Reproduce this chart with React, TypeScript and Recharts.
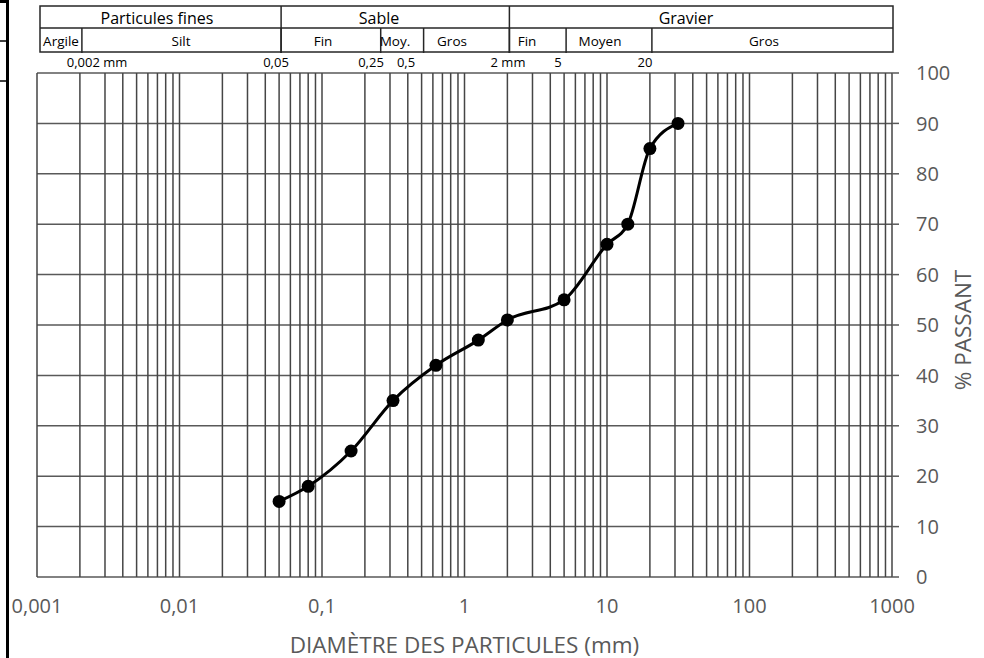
import { LineChart, Line, XAxis, YAxis, CartesianGrid, ReferenceLine } from 'recharts'

const FONT = '"Open Sans", Lato, sans-serif'
const GREY = '#595959'
const GRID = '#454545'

// courbe granulométrique (tamis AFNOR)
const SIEVE_MM = [0.05, 0.08, 0.16, 0.315, 0.63, 1.25, 2, 5, 10, 14, 20, 31.5]
const PASSING = [15, 18, 25, 35, 42, 47, 51, 55, 66, 70, 85, 90]

const X_TICKS = [0.001, 0.01, 0.1, 1, 10, 100, 1000]
const Y_TICKS = [0, 10, 20, 30, 40, 50, 60, 70, 80, 90, 100]

// classification en haut du graphique
const GROUPS = ['Particules fines', 'Sable', 'Gravier']
const GROUP_LIMITS = [0.05, 2]
const CLASSES = ['Argile', 'Silt', 'Fin', 'Moy.', 'Gros', 'Fin', 'Moyen', 'Gros']
const CLASS_LIMITS = [0.002, 0.05, 0.25, 0.5, 2, 5, 20]
const LIMIT_LABELS = ['0,002 mm', '0,05', '0,25', '0,5', '2 mm', '5', '20']

// mise en page (px)
const W = 984
const H = 658
const LEFT = 37
const RIGHT = 892
const TOP = 73
const BOTTOM = 577
const TABLE = { x0: 40, x1: 893, y0: 6, y1: 28, y2: 52 }
const GROUP_TEXT_X = [157, 379, 686]
const CLASS_TEXT_X = [61, 181, 323, 395, 452, 527, 600, 764]
const LIMIT_TEXT_X = [97, 276, 371, 406, 508, 558, 645]

const data = SIEVE_MM.map((d, i) => ({ d, p: PASSING[i] }))

// lignes du quadrillage log : 1..9 x 10^k
const minorX: number[] = []
for (let k = -3; k <= 2; k++) for (let m = 1; m <= 9; m++) minorX.push(+(m * Math.pow(10, k)).toPrecision(3))
minorX.push(1000)

const mmToX = (v: number) => LEFT + ((RIGHT - LEFT) / 6) * (Math.log10(v) + 3) + 2

function Overlay() {
  const line = { stroke: '#262626', strokeWidth: 1.5 }
  return (
    <svg width={W} height={H} style={{ position: 'absolute', left: 0, top: 0, pointerEvents: 'none' }}>
      {/* restes du cadre à gauche */}
      <line x1={7.5} y1={0} x2={7.5} y2={H} stroke="#000" strokeWidth={3} />
      <line x1={0} y1={1.5} x2={8} y2={1.5} stroke="#000" strokeWidth={3} />
      <line x1={0} y1={41} x2={8} y2={41} stroke="#000" strokeWidth={1.5} />
      <line x1={0} y1={81} x2={8} y2={81} stroke="#000" strokeWidth={1.5} />

      <rect x={TABLE.x0} y={TABLE.y0} width={TABLE.x1 - TABLE.x0} height={TABLE.y2 - TABLE.y0} fill="#fff" {...line} />
      <line x1={TABLE.x0} y1={TABLE.y1} x2={TABLE.x1} y2={TABLE.y1} {...line} />
      {GROUP_LIMITS.map((v, i) => (
        <line key={'g' + i} x1={mmToX(v)} y1={TABLE.y0} x2={mmToX(v)} y2={TABLE.y2 + 1} {...line} />
      ))}
      {CLASS_LIMITS.map((v, i) => (
        <line key={'c' + i} x1={mmToX(v)} y1={TABLE.y1} x2={mmToX(v)} y2={TABLE.y2 + 1} {...line} />
      ))}
      {GROUPS.map((t, i) => (
        <text key={t} x={GROUP_TEXT_X[i]} y={17.5} textAnchor="middle" dominantBaseline="central" fontSize={16} fontFamily={FONT} fill="#000">{t}</text>
      ))}
      {CLASSES.map((t, i) => (
        <text key={'t' + i} x={CLASS_TEXT_X[i]} y={40.5} textAnchor="middle" dominantBaseline="central" fontSize={13.5} fontFamily={FONT} fill="#000">{t}</text>
      ))}
      {LIMIT_LABELS.map((t, i) => (
        <text key={'l' + i} x={LIMIT_TEXT_X[i]} y={62} textAnchor="middle" dominantBaseline="central" fontSize={13} fontFamily={FONT} fill="#000">{t}</text>
      ))}

      <text x={(LEFT + RIGHT) / 2} y={644} textAnchor="middle" dominantBaseline="central" fontSize={22.5} fontFamily={FONT} fill={GREY}>
        DIAMÈTRE DES PARTICULES (mm)
      </text>
      <text x={962} y={(TOP + BOTTOM) / 2 + 5} textAnchor="middle" dominantBaseline="central" fontSize={22.5} fontFamily={FONT} fill={GREY}
        transform={`rotate(-90 962 ${(TOP + BOTTOM) / 2 + 5})`}>
        % PASSANT
      </text>
    </svg>
  )
}

export default function App() {
  return (
    <div style={{ position: 'absolute', left: 0, top: 0, width: W, height: H, background: '#fff' }}>
      <LineChart width={W} height={H} data={data} margin={{ top: TOP, right: 0, bottom: 0, left: LEFT }}>
        <CartesianGrid vertical={false} stroke={GREY} strokeWidth={1.5} />
        {minorX.map(v => (
          <ReferenceLine key={v} x={v} stroke={GRID} strokeWidth={1.5} />
        ))}
        <XAxis
          dataKey="d"
          type="number"
          scale="log"
          domain={[0.001, 1000]}
          ticks={X_TICKS}
          allowDataOverflow
          axisLine={false}
          tickLine={false}
          height={H - BOTTOM}
          tickMargin={16}
          tick={{ fill: GREY, fontSize: 20, fontFamily: FONT }}
          tickFormatter={(v: number) => String(v).replace('.', ',')}
        />
        <YAxis
          orientation="right"
          domain={[0, 100]}
          ticks={Y_TICKS}
          width={W - RIGHT}
          axisLine={false}
          tickSize={7}
          tickMargin={17}
          tickLine={{ stroke: GREY, strokeWidth: 1.5 }}
          tick={{ fill: GREY, fontSize: 20, fontFamily: FONT, textAnchor: 'start' }}
        />
        <Line
          dataKey="p"
          type="monotone"
          stroke="#000"
          strokeWidth={3}
          dot={{ r: 6.5, fill: '#000', stroke: '#000', strokeWidth: 0 }}
          isAnimationActive={false}
        />
      </LineChart>
      <Overlay />
    </div>
  )
}
